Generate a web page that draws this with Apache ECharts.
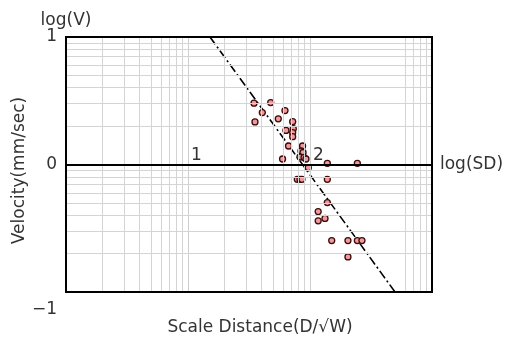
<!DOCTYPE html>
<html>
<head>
<meta charset="utf-8">
<script src="https://cdn.jsdelivr.net/npm/echarts@6.0.0/dist/echarts.min.js"></script>
<style>
  html, body { margin: 0; padding: 0; background: #fff; }
  #chart { width: 505px; height: 338px; }
</style>
</head>
<body>
<div id="chart"></div>
<script>
// measured points, stored as log10 values (what the axes show)
const logSD = [1.541, 1.678, 1.609, 1.549, 1.795, 1.740, 1.858, 1.803, 1.863, 1.858,
  1.858, 1.824, 1.939, 1.926, 1.943, 1.918, 1.951, 1.967, 1.775, 1.986,
  2.142, 2.388, 1.896, 1.918, 1.934, 2.142, 2.142, 2.067, 2.123, 2.067,
  2.178, 2.311, 2.388, 2.426, 2.311];
const logV = [0.481, 0.486, 0.407, 0.334, 0.423, 0.358, 0.336, 0.267, 0.281, 0.250,
  0.218, 0.145, 0.145, 0.106, 0.094, 0.059, 0.055, 0.043, 0.043, -0.025,
  0.009, 0.009, -0.116, -0.116, -0.116, -0.116, -0.299, -0.369, -0.423, -0.442,
  -0.597, -0.597, -0.597, -0.597, -0.725];

// regression line end points (log10)
const fitSD = [1.18, 2.697];
const fitV = [1, -1];

// minor grid lines (raw values)
const xMinor = [2, 3, 4, 5, 6, 7, 8, 9, 20, 30, 40, 50, 60, 70, 80, 90, 600, 700, 800, 900];
const yMinor = [0.2, 0.3, 0.4, 0.5, 0.6, 0.7, 0.8, 0.9, 2, 3, 4, 5, 6, 7, 8, 9];

const pow10 = (v) => Math.pow(10, v);
const textColor = '#333';
const font = 'DejaVu Sans';
const fs = 17;

const chart = echarts.init(document.getElementById('chart'));

const option = {
  animation: false,
  textStyle: { fontFamily: font },
  grid: {
    left: 66, right: 73, top: 37, bottom: 46, z: 10,
    outerBoundsMode: 'none', containLabel: false,
    show: true, borderColor: '#000', borderWidth: 2,
  },
  xAxis: [
    {
      type: 'log', min: 1, max: 1000, splitNumber: 3,
      position: 'bottom', offset: -127.25, z: 5,
      name: 'log(SD)', nameLocation: 'end', nameGap: 8,
      nameTextStyle: { color: textColor, fontSize: fs, fontFamily: font },
      axisLine: { show: true, lineStyle: { color: '#000', width: 2 } },
      axisTick: { show: false },
      axisLabel: {
        inside: true, margin: 1, align: 'left', padding: [0, 0, 0, 3],
        color: textColor, fontSize: fs, fontFamily: font,
        formatter: (v) => (v === 10 || v === 100 ? String(Math.round(Math.log10(v))) : ''),
      },
      splitLine: { show: true, lineStyle: { color: '#cfcfcf', width: 1 } },
    },
    {
      type: 'log', min: 1, max: 1000, position: 'bottom',
      name: 'Scale Distance(D/√W)', nameLocation: 'middle', nameGap: 27,
      nameTextStyle: { color: textColor, fontSize: fs, fontFamily: font, padding: [0, 0, 0, 22] },
      axisLine: { show: false }, axisTick: { show: false },
      axisLabel: { show: false }, splitLine: { show: false },
    },
  ],
  yAxis: [
    {
      type: 'log', min: 0.1, max: 10, splitNumber: 2,
      name: 'log(V)', nameLocation: 'end', nameGap: 7,
      nameTextStyle: { color: textColor, fontSize: fs, fontFamily: font },
      axisLine: { show: false }, axisTick: { show: false },
      axisLabel: {
        margin: 9, color: textColor, fontSize: fs, fontFamily: font,
        formatter: (v) => {
          const l = Math.round(Math.log10(v));
          return l < 0 ? '{low|\u2212' + Math.abs(l) + '}' : String(l);
        },
        rich: { low: { fontSize: fs, fontFamily: font, color: textColor, padding: [36, 0, 0, 0] } },
      },
      splitLine: { show: true, lineStyle: { color: '#cfcfcf', width: 1 } },
    },
    {
      type: 'log', min: 0.1, max: 10, position: 'left',
      name: 'Velocity(mm/sec)', nameLocation: 'middle', nameGap: 38,
      nameTextStyle: { color: textColor, fontSize: fs, fontFamily: font, padding: [0, 12, 0, 0] },
      axisLine: { show: false }, axisTick: { show: false },
      axisLabel: { show: false }, splitLine: { show: false },
    },
  ],
  series: [
    {
      type: 'line', data: [], z: -1, silent: true,
      markLine: {
        silent: true, symbol: 'none', animation: false,
        label: { show: false },
        lineStyle: { color: '#d4d4d4', width: 1, type: 'solid' },
        data: xMinor.map((v) => ({ xAxis: v })).concat(yMinor.map((v) => ({ yAxis: v }))),
      },
    },
    {
      type: 'line', z: 3, symbol: 'none', silent: true,
      data: fitSD.map((x, i) => [pow10(x), pow10(fitV[i])]),
      lineStyle: { color: '#000', width: 1.6, type: [9, 3, 2, 3] },
    },
    {
      type: 'scatter', z: 4,
      symbol: 'circle', symbolSize: 6,
      data: logSD.map((x, i) => [pow10(x), pow10(logV[i])]),
      itemStyle: { color: '#f29a9a', borderColor: '#3a0c0c', borderWidth: 1.3, opacity: 1 },
    },
  ],
};

chart.setOption(option);
</script>
</body>
</html>
